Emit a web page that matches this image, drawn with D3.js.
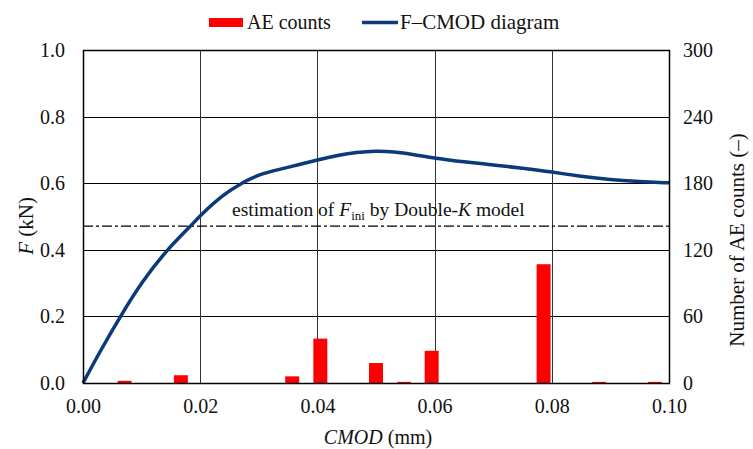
<!DOCTYPE html>
<html><head><meta charset="utf-8">
<script src="https://cdn.jsdelivr.net/npm/d3@7"></script>
<style>body{margin:0;background:#fff}svg{display:block}svg text{font-family:"Liberation Serif","Times New Roman",Times,Tinos,"Nimbus Roman","DejaVu Serif",serif !important;fill:#111}</style>
</head><body><svg id="c" width="753" height="449"></svg>
<script>
const xTicks = [0, 0.02, 0.04, 0.06, 0.08, 0.10];
const yLeftTicks = [0, 0.2, 0.4, 0.6, 0.8, 1.0];
const yRightTicks = [0, 60, 120, 180, 240, 300];
const aeCmod = [0.0071, 0.0167, 0.0357, 0.0405, 0.0500, 0.0548, 0.0595, 0.0786, 0.0881, 0.0976];
const aeCounts = [2, 7, 6, 40, 18, 1, 29, 107, 1, 1];
const curveCmod = [0, 0.003, 0.0063, 0.010, 0.0143, 0.0183, 0.020, 0.024, 0.0273, 0.030, 0.0336, 0.0367, 0.040, 0.0435, 0.0467, 0.050, 0.053, 0.0565, 0.060, 0.065, 0.070, 0.075, 0.080, 0.085, 0.090, 0.095, 0.100];
const curveF = [0, 0.098, 0.198, 0.303, 0.40, 0.47, 0.503, 0.567, 0.603, 0.626, 0.642, 0.655, 0.670, 0.684, 0.693, 0.697, 0.695, 0.686, 0.675, 0.664, 0.655, 0.645, 0.634, 0.620, 0.610, 0.605, 0.601];
const fIni = 0.471;

const svg = d3.select("#c");
const L = 83, R = 669, T = 50, B = 383;
const x = d3.scaleLinear().domain([0, 0.1]).range([L, R]);
const yL = d3.scaleLinear().domain([0, 1]).range([B, T]);
const yR = d3.scaleLinear().domain([0, 300]).range([B, T]);
const bw = (R - L) / 21 * 0.5;

// grid
const g = svg.append("g");
g.selectAll("line.h").data(yLeftTicks.slice(1)).join("line")
  .attr("x1", L).attr("x2", R).attr("y1", d => Math.round(yL(d)) + 0.5).attr("y2", d => Math.round(yL(d)) + 0.5)
  .attr("stroke", "#000").attr("stroke-width", 1);
g.selectAll("line.v").data(xTicks.slice(1, -1)).join("line")
  .attr("y1", T).attr("y2", B).attr("x1", d => Math.round(x(d)) + 0.5).attr("x2", d => Math.round(x(d)) + 0.5)
  .attr("stroke", "#333").attr("stroke-width", 1);

// bars
svg.append("g").selectAll("rect").data(aeCmod).join("rect")
  .attr("x", (d) => x(d) - bw / 2).attr("width", bw)
  .attr("y", (d, i) => yR(aeCounts[i])).attr("height", (d, i) => B - yR(aeCounts[i]))
  .attr("fill", "#ff0000");

// dash-dot line
svg.append("line").attr("x1", L).attr("x2", R).attr("y1", yL(fIni)).attr("y2", yL(fIni))
  .attr("stroke", "#000").attr("stroke-width", 1.3).attr("stroke-dasharray", "10,3,3,3");

// curve
const pts = curveCmod.map((c, i) => [c, curveF[i]]);
svg.append("path").datum(pts)
  .attr("d", d3.line().x(d => x(d[0])).y(d => yL(d[1])).curve(d3.curveBasis))
  .attr("fill", "none").attr("stroke", "#0a3a7a").attr("stroke-width", 3.5);

// frame
svg.append("rect").attr("x", L + 0.5).attr("y", T + 0.5).attr("width", R - L).attr("height", B - T)
  .attr("fill", "none").attr("stroke", "#000").attr("stroke-width", 1.5);

// axes
const fs = 20;
const ax = svg.append("g").attr("transform", `translate(0,${B})`)
  .call(d3.axisBottom(x).tickValues(xTicks).tickFormat(d3.format(".2f")).tickSize(0).tickPadding(16));
const ayl = svg.append("g").attr("transform", `translate(${L},0)`)
  .call(d3.axisLeft(yL).tickValues(yLeftTicks).tickFormat(d3.format(".1f")).tickSize(0).tickPadding(18));
const ayr = svg.append("g").attr("transform", `translate(${R},0)`)
  .call(d3.axisRight(yR).tickValues(yRightTicks).tickFormat(d3.format("d")).tickSize(0).tickPadding(14));
[ax, ayl, ayr].forEach(a => {
  a.attr("font-family", null);
  a.select(".domain").remove();
  a.selectAll("text").attr("font-size", fs).attr("fill", "#111");
});

// titles
const xt = svg.append("text").attr("x", 378).attr("y", 444).attr("text-anchor", "middle").attr("font-size", fs);
xt.append("tspan").attr("font-style", "italic").text("CMOD");
xt.append("tspan").text(" (mm)");
const ylt = svg.append("text").attr("transform", "translate(33,226) rotate(-90)").attr("text-anchor", "middle").attr("font-size", 21);
ylt.append("tspan").attr("font-style", "italic").text("F");
ylt.append("tspan").text(" (kN)");
svg.append("text").attr("transform", "translate(744,240) rotate(-90)").attr("text-anchor", "middle").attr("font-size", 21)
  .text("Number of AE counts (–)");

// annotation
const an = svg.append("text").attr("x", 232).attr("y", 216).attr("font-size", 19.5);
an.append("tspan").text("estimation of ");
an.append("tspan").attr("font-style", "italic").text("F");
an.append("tspan").attr("font-size", 13).attr("dy", 4).text("ini");
an.append("tspan").attr("dy", -4).text(" by Double-");
an.append("tspan").attr("font-style", "italic").text("K");
an.append("tspan").text(" model");

// legend
svg.append("rect").attr("x", 209).attr("y", 18).attr("width", 34).attr("height", 9).attr("fill", "#ff0000");
svg.append("text").attr("x", 247).attr("y", 29).attr("font-size", fs).text("AE counts");
svg.append("line").attr("x1", 362).attr("x2", 398).attr("y1", 22.5).attr("y2", 22.5).attr("stroke", "#0a3a7a").attr("stroke-width", 3.5);
svg.append("text").attr("x", 400).attr("y", 29).attr("font-size", 21).text("F–CMOD diagram");
</script></body></html>
